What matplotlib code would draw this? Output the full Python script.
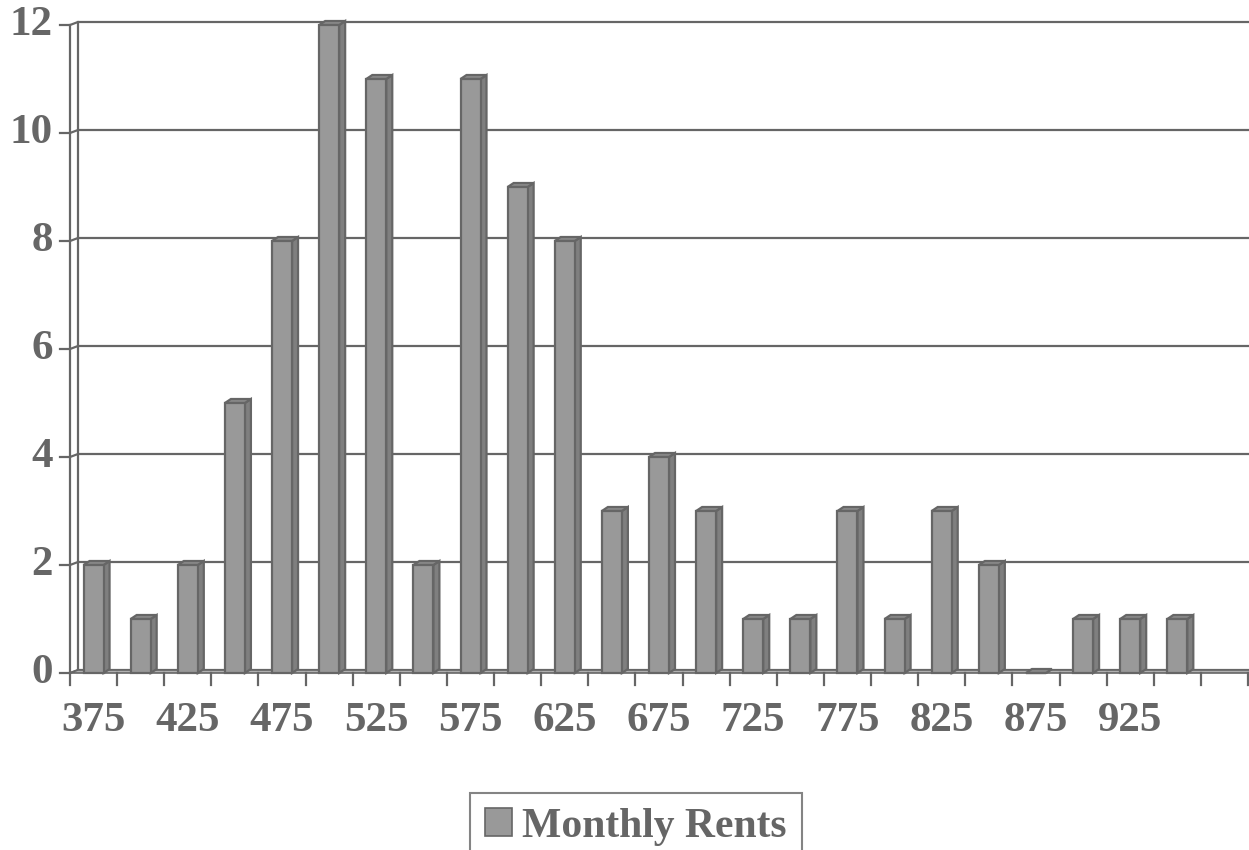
import matplotlib
matplotlib.use("Agg")
import matplotlib.pyplot as plt
from matplotlib.patches import Polygon, Patch
import numpy as np

# ---- data ----
categories = ["375", "400", "425", "450", "475", "500", "525", "550", "575", "600",
              "625", "650", "675", "700", "725", "750", "775", "800", "825", "850",
              "875", "900", "925", "950", ""]
counts = [2, 1, 2, 5, 8, 12, 11, 2, 11, 9, 8, 3, 4, 3, 1, 1, 3, 1, 3, 2, 0, 1, 1, 1, np.nan]
series_name = "Monthly Rents"
yticks = [0, 2, 4, 6, 8, 10, 12]

TXT = "#666666"
EDGE = "#666666"
FRONT = "#999999"
SIDE = "#7f7f7f"
TOP = "#8a8a8a"
FS = 31

plt.rcParams['font.family'] = ['Liberation Serif', 'DejaVu Serif']
plt.rcParams['font.weight'] = 'bold'

W, H = 1249, 850
fig = plt.figure(figsize=(W / 100, H / 100), dpi=100)
n = len(categories)
x0_px, x1_px = 70, 1248
y0_px, y1_px = 673, 25
ax = fig.add_axes([x0_px / W, 1 - y0_px / H, (x1_px - x0_px) / W, (y0_px - y1_px) / H])
ax.set_xlim(-0.5, n - 0.5)
ax.set_ylim(0, 12)
ax.axis('off')

px_x = (x1_px - x0_px) / n          # px per x unit
px_y = (y0_px - y1_px) / 12.0       # px per y unit

# wall depth offsets
wdx, wdy = 8 / px_x, 3 / px_y
# bar depth offsets
bdx, bdy = 6 / px_x, 4 / px_y
bw = 20 / px_x

xs = np.arange(n)
lw = 1.6

# gridlines on back wall with slanted connectors, y-axis ticks
for v in yticks:
    ax.plot([-0.5 - 10 / px_x, -0.5, -0.5 + wdx, n - 0.5 + wdx],
            [v, v, v + wdy, v + wdy], color=EDGE, lw=lw, clip_on=False, zorder=1)
    ax.text(-0.5 - 17 / px_x, v, str(v), ha='right', va='center', fontsize=FS,
            color=TXT, fontweight='bold')

# left wall lines
ax.plot([-0.5, -0.5], [0, 12], color=EDGE, lw=lw, clip_on=False, zorder=1)
ax.plot([-0.5 + wdx, -0.5 + wdx], [wdy, 12 + wdy], color=EDGE, lw=lw, clip_on=False, zorder=1)

# floor
floor = Polygon([(-0.5, 0), (n - 0.5, 0), (n - 0.5 + wdx, wdy), (-0.5 + wdx, wdy)],
                closed=True, facecolor="#b0b0b0", edgecolor=EDGE, lw=1.2,
                clip_on=False, zorder=2)
ax.add_patch(floor)

# bars with 3D faces
valid = [i for i, v in enumerate(counts) if not np.isnan(v)]
ax.bar([xs[i] for i in valid], [counts[i] for i in valid], width=bw, color=FRONT,
       edgecolor=EDGE, linewidth=lw, zorder=4, clip_on=False)
for i in valid:
    x, v = xs[i], counts[i]
    l, r = x - bw / 2, x + bw / 2
    side = Polygon([(r, 0), (r + bdx, bdy), (r + bdx, v + bdy), (r, v)], closed=True,
                   facecolor=SIDE, edgecolor=EDGE, lw=lw, zorder=3, clip_on=False)
    top = Polygon([(l, v), (l + bdx, v + bdy), (r + bdx, v + bdy), (r, v)], closed=True,
                  facecolor=TOP, edgecolor=EDGE, lw=lw, zorder=3, clip_on=False)
    ax.add_patch(side)
    ax.add_patch(top)

# x axis ticks and labels
for i in range(n + 1):
    xt = i - 0.5
    ax.plot([xt, xt], [0, -12 / px_y], color=EDGE, lw=lw, clip_on=False, zorder=2)
for i, c in enumerate(categories):
    if i % 2 == 0 and c:
        ax.text(i, -48 / px_y, c, ha='center', va='center', fontsize=FS, color=TXT,
                fontweight='bold')

# legend
handle = Patch(facecolor=FRONT, edgecolor=EDGE, linewidth=1.2)
leg = fig.legend([handle], [series_name], loc='upper center',
                 bbox_to_anchor=(636 / W, 1 - 793 / H), frameon=True, fancybox=False,
                 prop={'family': 'Liberation Serif', 'weight': 'bold', 'size': 30},
                 handlelength=0.65, handleheight=0.65, handletextpad=0.25,
                 borderpad=0.35, borderaxespad=0)
leg.get_frame().set_edgecolor(EDGE)
leg.get_frame().set_linewidth(1.5)
for t in leg.get_texts():
    t.set_color(TXT)

fig.savefig("out.png", dpi=100)
